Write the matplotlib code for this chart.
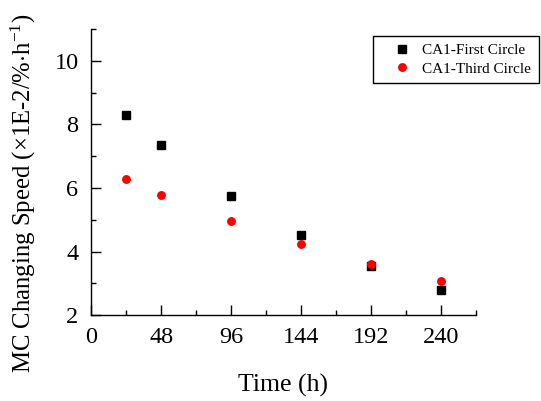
import matplotlib
matplotlib.use("Agg")
import matplotlib.pyplot as plt
from matplotlib.ticker import MultipleLocator

plt.rcParams['font.family'] = ['Liberation Serif', 'DejaVu Serif']
plt.rcParams['mathtext.fontset'] = 'custom'
plt.rcParams['mathtext.rm'] = 'Liberation Serif'
plt.rcParams['mathtext.it'] = 'Liberation Serif:italic'

time_h = [24, 48, 96, 144, 192, 240]
first_circle = [8.29, 7.34, 5.75, 4.54, 3.54, 2.78]
third_circle = [6.27, 5.79, 4.95, 4.23, 3.60, 3.09]
series_labels = ["CA1-First Circle", "CA1-Third Circle"]
x_ticks = [0, 48, 96, 144, 192, 240]
y_ticks = [2, 4, 6, 8, 10]

fig = plt.figure(figsize=(5.41, 4.01), dpi=100)
ax = fig.add_axes([0.169, 0.2137, 0.7103, 0.714])

ax.plot(time_h, first_circle, linestyle='none', marker='s', markersize=5.4,
        color='black', label=series_labels[0])
ax.plot(time_h, third_circle, linestyle='none', marker='o', markersize=6.4,
        color='#ff0000', markeredgewidth=0, label=series_labels[1])

ax.set_xlim(0, 264)
ax.set_ylim(2, 11)
ax.set_xticks(x_ticks)
ax.set_yticks(y_ticks)
ax.xaxis.set_minor_locator(MultipleLocator(24))
ax.yaxis.set_minor_locator(MultipleLocator(1))

for s in ['top', 'right']:
    ax.spines[s].set_visible(False)
for s in ['left', 'bottom']:
    ax.spines[s].set_linewidth(1.0)

ax.tick_params(axis='both', which='major', direction='in', length=7.2, width=1.0,
               labelsize=17.5)
ax.tick_params(axis='both', which='minor', direction='in', length=3.6, width=1.0)
ax.tick_params(axis='x', which='major', pad=8.3)
ax.tick_params(axis='y', which='major', pad=9.3)

ax.set_xlabel('Time (h)', fontsize=18.5)
ax.set_ylabel(r'MC Changing Speed ($\times$1E-2/%$\cdot$h$^{-1}$)', fontsize=17.8)
ax.xaxis.set_label_coords(0.498, -0.205)
ax.yaxis.set_label_coords(-0.14, 0.425)

leg = ax.legend(loc='upper left', bbox_to_anchor=(373.3 / 541, 1 - 35.7 / 401),
                bbox_transform=fig.transFigure, borderaxespad=0,
                fontsize=11, frameon=True, fancybox=False, shadow=False,
                borderpad=0.5, labelspacing=0.33, handlelength=2.7,
                handletextpad=0.0, numpoints=1)
leg.get_frame().set_edgecolor('black')
leg.get_frame().set_linewidth(1.0)
leg.get_frame().set_alpha(None)
leg.get_frame().set_facecolor('white')

fig.savefig('out.png', dpi=100)
